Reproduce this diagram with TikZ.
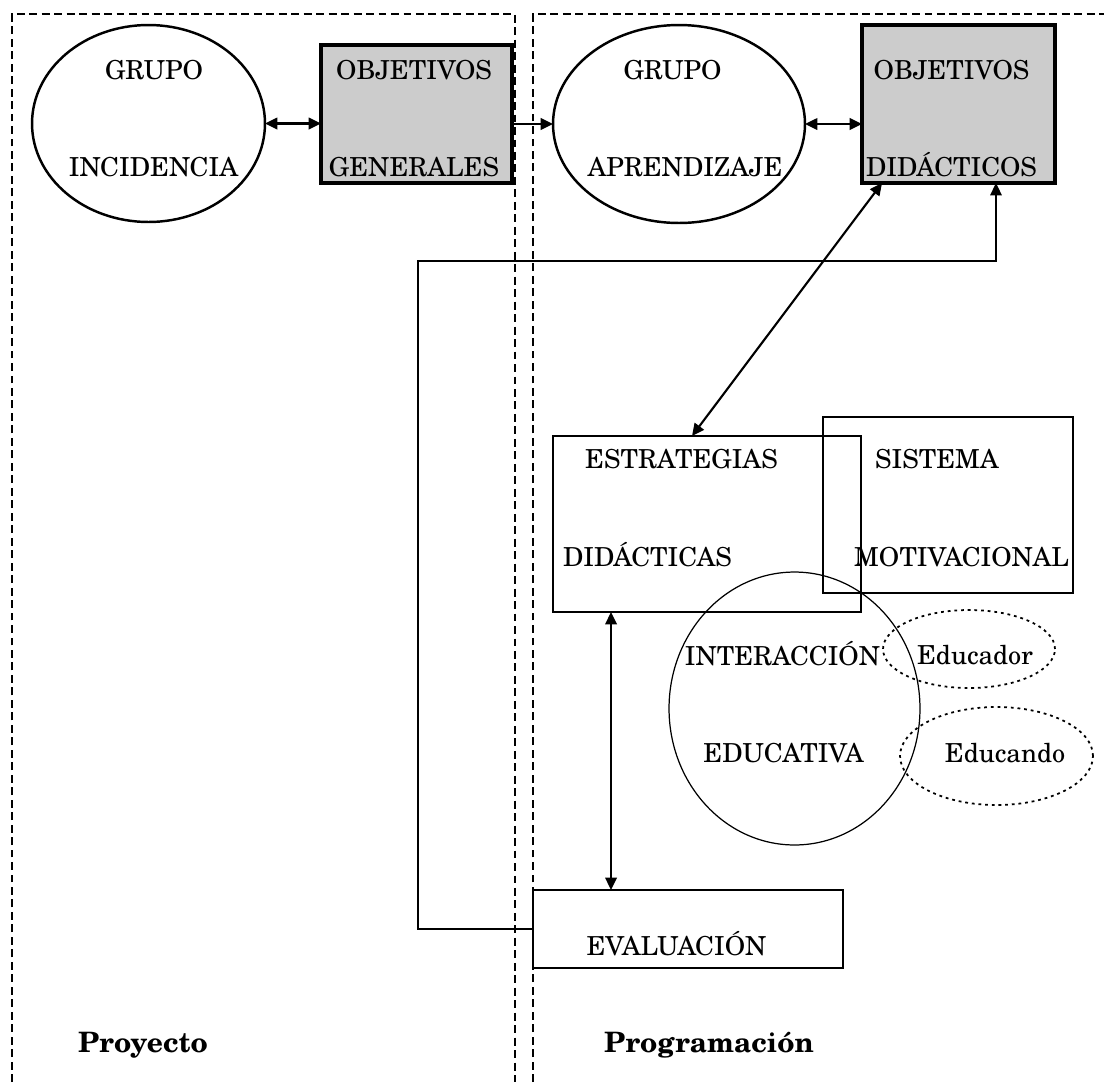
\documentclass[tikz,border=0pt]{standalone}
\usepackage{fontspec}
\setmainfont{TeX Gyre Schola}
\usetikzlibrary{shapes.geometric,arrows.meta,calc}
\tikzset{
  frame/.style={line width=1pt, dash pattern=on 4.5pt off 2.6pt},
  shp/.style={inner sep=0pt, outer sep=0pt},
  thickell/.style={shp, ellipse, draw, line width=1.4pt},
  graybox/.style={shp, rectangle, draw, line width=1.8pt, fill=black!20},
  plainbox/.style={shp, rectangle, draw, line width=1.4pt},
  thinbox/.style={shp, rectangle, draw, line width=0.7pt},
  thinell/.style={shp, ellipse, draw, line width=0.7pt},
  dotell/.style={shp, ellipse, draw, line width=1pt, dash pattern=on 1.6pt off 2.2pt},
  lbl/.style={inner sep=0pt, font=\fontsize{14.9}{18}\selectfont, text height=10.8pt, text depth=0pt},
  blbl/.style={inner sep=0pt, font=\fontsize{16}{19}\selectfont\bfseries, text height=11.6pt, text depth=0pt},
  arr/.style={line width=1.2pt, -{Triangle[length=7pt,width=6.5pt]}},
  dbl/.style={line width=1.2pt, {Triangle[length=7pt,width=6.5pt]}-{Triangle[length=7pt,width=6.5pt]}},
  fb/.style={line width=1pt, -{Triangle[length=7pt,width=6.5pt]}}
}
\begin{document}
\begin{tikzpicture}[x=0.02cm,y=-0.02cm]
\useasboundingbox (0,0) rectangle (1104,1082);
% dashed frames
\coordinate (fl1) at (12,1082);
\coordinate (fl2) at (12,14);
\coordinate (fl3) at (515,14);
\coordinate (fl4) at (515,1082);
\coordinate (fr1) at (533,1082);
\coordinate (fr2) at (533,14);
\coordinate (fr3) at (1104,14);
\draw[frame] (fl1) -- (fl2) -- (fl3) -- (fl4);
\draw[frame] (fr1) -- (fr2) -- (fr3);
% shapes
\node[thickell, minimum width=4.66cm, minimum height=3.94cm] (e1) at (148.5,123.5) {};
\node[graybox, minimum width=3.82cm, minimum height=2.76cm] (bOG) at (416.5,114) {};
\node[thickell, minimum width=5.04cm, minimum height=3.96cm] (e2) at (679,124) {};
\node[graybox, minimum width=3.86cm, minimum height=3.16cm] (bOD) at (958.5,104) {};
\node[plainbox, minimum width=6.16cm, minimum height=3.52cm] (bED) at (707,524) {};
\node[thinbox, minimum width=5.0cm, minimum height=3.52cm] (bSM) at (948,505) {};
\node[thinell, minimum width=5.02cm, minimum height=5.46cm] (cIE) at (794.5,708.5) {};
\node[dotell, minimum width=3.44cm, minimum height=1.56cm] (eEr) at (969,649) {};
\node[dotell, minimum width=3.86cm, minimum height=1.96cm] (eEn) at (996.5,756) {};
\node[plainbox, minimum width=6.2cm, minimum height=1.56cm] (bEV) at (688,929) {};
% labels
\node[lbl] (t1a) at (154,70) {GRUPO};
\node[lbl] (t1b) at (153.5,167) {INCIDENCIA};
\node[lbl] (t2a) at (414,70) {OBJETIVOS};
\node[lbl] (t2b) at (414,167) {GENERALES};
\node[lbl] (t3a) at (672.5,70) {GRUPO};
\node[lbl] (t3b) at (685,167) {APRENDIZAJE};
\node[lbl] (t4a) at (951.5,70) {OBJETIVOS};
\node[lbl] (t4b) at (951.5,167) {DIDÁCTICOS};
\node[lbl] (t5a) at (681.5,459) {ESTRATEGIAS};
\node[lbl] (t5b) at (647.5,557) {DIDÁCTICAS};
\node[lbl] (t6a) at (937,459) {SISTEMA};
\node[lbl] (t6b) at (961.5,557) {MOTIVACIONAL};
\node[lbl] (t7a) at (782.5,656) {INTERACCIÓN};
\node[lbl] (t7b) at (783.5,753) {EDUCATIVA};
\node[lbl] (t8) at (975,655) {Educador};
\node[lbl] (t9) at (1005,753) {Educando};
\node[lbl] (t10) at (676.5,946) {EVALUACIÓN};
\node[blbl] (t11) at (143,1042) {Proyecto};
\node[blbl] (t12) at (709,1042) {Programación};
% connectors
\draw[dbl] (e1.east) -- (e1.east -| bOG.west);
\draw[arr] (bOG.east |- e2.west) -- (e2.west);
\draw[dbl] (e2.east) -- (e2.east -| bOD.west);
\coordinate (dA) at ([xshift=-0.3cm]bED.north);
\coordinate (dB) at ([xshift=-1.53cm]bOD.south);
\draw[dbl] (dA) -- (dB);
\coordinate (vA) at ([xshift=-1.92cm]bED.south);
\draw[dbl] (vA) -- (vA |- bEV.north);
\coordinate (fbc) at (418,261);
\coordinate (fbt) at ([xshift=0.75cm]bOD.south);
\draw[fb] (bEV.west) -| (fbc) -| (fbt);
\end{tikzpicture}
\end{document}
